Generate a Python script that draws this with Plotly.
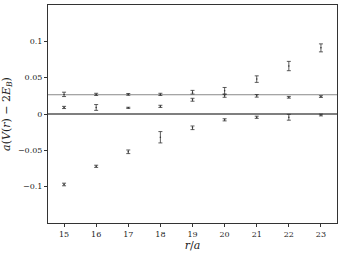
import plotly.graph_objects as go

r = [15, 16, 17, 18, 19, 20, 21, 22, 23]

lower = [-0.097, -0.072, -0.052, -0.032, -0.019, -0.008, -0.0045, -0.0045, -0.0014]
lower_err = [0.0018, 0.0015, 0.0025, 0.0078, 0.0025, 0.0015, 0.0015, 0.004, 0.0012]

middle = [0.009, 0.009, 0.0085, 0.0105, 0.0196, 0.025, 0.025, 0.023, 0.024]
middle_err = [0.0015, 0.004, 0.0008, 0.0015, 0.002, 0.002, 0.0018, 0.0012, 0.0012]

upper = [0.027, 0.027, 0.027, 0.027, 0.030, 0.032, 0.048, 0.066, 0.091]
upper_err = [0.003, 0.0015, 0.0012, 0.0015, 0.0025, 0.0045, 0.0045, 0.0064, 0.0055]

ref_lines = [0.0, 0.0265]
ref_colors = ["#555555", "#8a8a8a"]
ref_widths = [1.5, 1.0]

xticks = [15, 16, 17, 18, 19, 20, 21, 22, 23]
yticks = [-0.1, -0.05, 0, 0.05, 0.1]
ytick_text = ["\u22120.1", "\u22120.05", "0", "0.05", "0.1"]

FONT = "DejaVu Serif"

fig = go.Figure()
for yv, c, w in zip(ref_lines, ref_colors, ref_widths):
    fig.add_hline(y=yv, line=dict(color=c, width=w), layer="below")

for ys, es in [(lower, lower_err), (middle, middle_err), (upper, upper_err)]:
    fig.add_trace(go.Scatter(
        x=r, y=ys, mode="markers",
        marker=dict(size=1.5, color="#333333"),
        error_y=dict(type="data", array=es, visible=True, color="#333333",
                     thickness=0.8, width=2),
        showlegend=False,
    ))

fig.update_layout(
    width=339, height=253,
    margin=dict(l=48, r=2, t=5, b=30),
    paper_bgcolor="white", plot_bgcolor="white",
    font=dict(family=FONT, size=8, color="#222222"),
    xaxis=dict(range=[14.5, 23.5], tickvals=xticks, ticks="outside", ticklen=3,
               tickcolor="#333333", showline=True, linecolor="#333333", linewidth=1,
               mirror=True, showgrid=False, zeroline=False,
               title=dict(text="<i>r</i>/<i>a</i>", font=dict(size=11, family=FONT, color="#222222"), standoff=3)),
    yaxis=dict(range=[-0.15, 0.15], tickvals=yticks, ticktext=ytick_text, ticks="outside",
               ticklen=3, tickcolor="#333333", showline=True, linecolor="#333333", linewidth=1,
               mirror=True, showgrid=False, zeroline=False,
               title=dict(text="<i>a</i>(<i>V</i>(<i>r</i>) \u2212 2<i>E</i><sub><i>B</i></sub>)",
                          font=dict(size=11, family=FONT, color="#222222"), standoff=5)),
)

fig.write_html("out.html")
